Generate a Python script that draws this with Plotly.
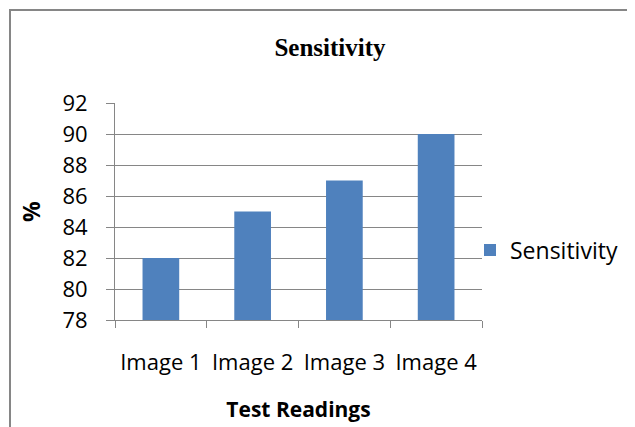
import plotly.graph_objects as go

categories = ["Image 1", "Image 2", "Image 3", "Image 4"]
sensitivity = [82, 85, 87, 90]
y_ticks = [78, 80, 82, 84, 86, 88, 90, 92]

# page body has an 8px margin; layout is expressed in screen pixels and shifted by O
O = 8
W, H = 635, 427
PL, PR, PT, PB = 115, 482, 103, 320   # plot area in screen pixels
pw, ph = PR - PL, PB - PT
L, T = PL - O, PT - O
R = W - L - pw
B = H - T - ph

def px_x(x):
    return (x - PL) / pw

def px_y(y):
    return (PB - y) / ph

FONT = "Open Sans"
GRAY = "#868686"

fig = go.Figure()
fig.add_trace(go.Bar(
    x=categories, y=sensitivity, name="Sensitivity",
    marker=dict(color="#4F81BD", line=dict(width=0)),
    showlegend=True,
))

fig.update_layout(
    width=W, height=H,
    margin=dict(l=L, r=R, t=T, b=B, autoexpand=False),
    paper_bgcolor="white", plot_bgcolor="white",
    bargap=0.6,
    title=dict(text="<b>Sensitivity</b>", x=(330 - O) / W, xanchor="center",
               y=1 - (47 - O) / H, yanchor="middle",
               font=dict(family="Liberation Serif", size=25, color="black")),
    font=dict(family=FONT, color="black"),
    xaxis=dict(
        showline=True, linecolor=GRAY, linewidth=1,
        ticks="outside", ticklen=7, tickcolor=GRAY,
        tickson="boundaries", showgrid=False,
        tickangle=0,
        tickfont=dict(size=22, family=FONT),
        ticklabelstandoff=23,
        title=dict(text="<b>Test Readings</b>", font=dict(size=21, family=FONT), standoff=26),
    ),
    yaxis=dict(
        range=[78, 92], tickvals=y_ticks,
        showline=True, linecolor=GRAY, linewidth=1,
        ticks="outside", ticklen=8, tickcolor=GRAY,
        showgrid=True, gridcolor=GRAY, gridwidth=1,
        zeroline=False,
        tickfont=dict(size=22, family=FONT),
        ticklabelstandoff=14,
        title=dict(text="<b>%</b>", font=dict(size=23, family=FONT), standoff=15),
    ),
    legend=dict(x=px_x(470), y=px_y(250), xanchor="left", yanchor="middle",
                font=dict(size=23, family=FONT), bgcolor="rgba(0,0,0,0)",
                itemwidth=30),
    shapes=[dict(type="rect", xref="paper", yref="paper",
                 x0=px_x(10), x1=px_x(633), y0=px_y(450), y1=px_y(10),
                 line=dict(color=GRAY, width=2), fillcolor="rgba(0,0,0,0)", layer="below")],
)

fig.write_html("out.html")
